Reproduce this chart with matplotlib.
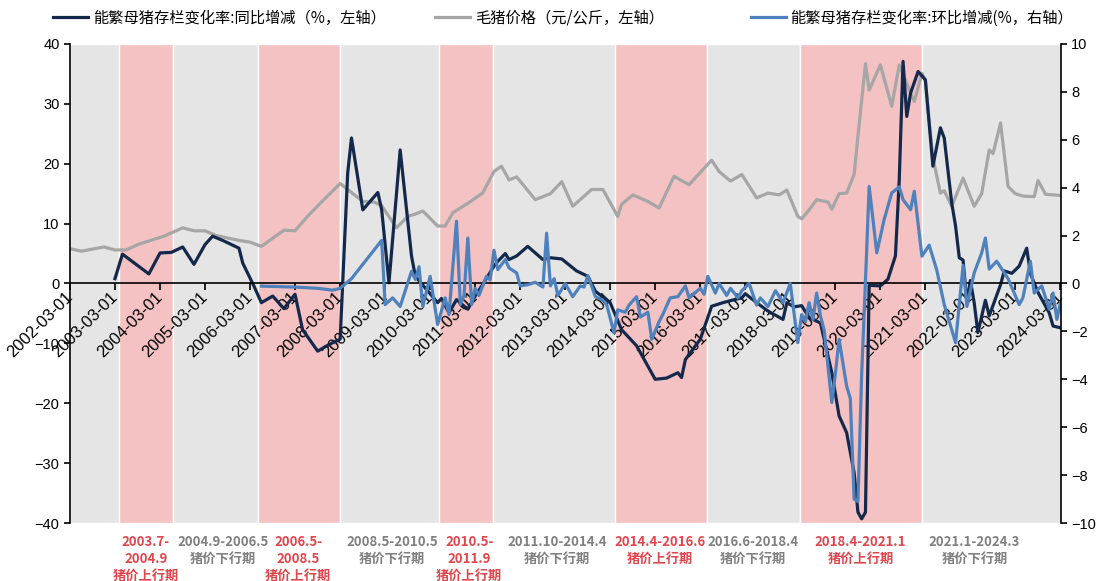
import matplotlib
matplotlib.use('Agg')
import matplotlib.pyplot as plt
import matplotlib.transforms as mtransforms
from matplotlib.font_manager import FontProperties
import pandas as pd

plt.rcParams['font.family'] = ['Liberation Sans', 'Noto Sans CJK SC']
plt.rcParams['axes.unicode_minus'] = True

# 毛猪价格 (元/公斤, 左轴)
price_dates = ['2002-03', '2002-06', '2002-12', '2003-03', '2003-06', '2003-09', '2004-01', '2004-04',
               '2004-09', '2004-12', '2005-03', '2005-06', '2005-12', '2006-03', '2006-06', '2006-12',
               '2007-03', '2007-06', '2007-10', '2008-03', '2008-09', '2008-12', '2009-02', '2009-06',
               '2009-09', '2009-11', '2010-01', '2010-05', '2010-07', '2010-09', '2011-01', '2011-05',
               '2011-08', '2011-10', '2011-12', '2012-02', '2012-07', '2012-11', '2013-02', '2013-05',
               '2013-10', '2014-01', '2014-05', '2014-06', '2014-09', '2015-01', '2015-04', '2015-08',
               '2015-12', '2016-02', '2016-06', '2016-08', '2016-11', '2017-02', '2017-06', '2017-09',
               '2017-12', '2018-02', '2018-05', '2018-06', '2018-08', '2018-10', '2019-01', '2019-02',
               '2019-04', '2019-06', '2019-08', '2019-09', '2019-11', '2019-12', '2020-03', '2020-06',
               '2020-08', '2020-10', '2020-12', '2021-02', '2021-03', '2021-04', '2021-05', '2021-07',
               '2021-08', '2021-10', '2022-01', '2022-04', '2022-06', '2022-08', '2022-09', '2022-11',
               '2023-01', '2023-03', '2023-05', '2023-08', '2023-09', '2023-11', '2024-03']
price_vals = [5.8, 5.4, 6.1, 5.6, 5.6, 6.5, 7.3, 7.9,
              9.3, 8.8, 8.8, 8.0, 7.2, 6.9, 6.2, 8.9,
              8.8, 11.0, 13.6, 16.7, 13.7, 13.6, 13.0, 9.3,
              11.2, 11.6, 12.1, 9.6, 9.6, 11.8, 13.4, 15.1,
              18.7, 19.6, 17.3, 17.8, 14.0, 15.0, 17.0, 12.9,
              15.7, 15.7, 11.2, 13.2, 14.8, 13.7, 12.6, 17.9,
              16.5, 17.9, 20.6, 18.7, 17.1, 18.2, 14.3, 15.1,
              14.8, 15.6, 11.2, 10.8, 12.3, 14.0, 13.6, 12.4,
              15.0, 15.1, 18.2, 24.6, 36.7, 32.3, 36.5, 29.6,
              36.5, 33.4, 30.4, 35.1, 34.0, 27.0, 21.0, 15.1,
              15.5, 12.9, 17.6, 12.9, 15.0, 22.3, 21.7, 26.8,
              16.2, 15.0, 14.6, 14.5, 17.2, 14.9, 14.7]

# 能繁母猪存栏变化率: 同比增减 (%, 左轴)
yoy_dates = ['2003-03', '2003-05', '2003-12', '2004-03', '2004-06', '2004-09', '2004-12', '2005-03',
             '2005-05', '2005-08', '2005-12', '2006-01', '2006-04', '2006-06', '2006-09', '2006-12',
             '2007-03', '2007-05', '2007-09', '2007-12', '2008-03', '2008-05', '2008-06', '2008-09',
             '2009-01', '2009-02', '2009-04', '2009-07', '2009-10', '2009-11', '2010-05', '2010-06',
             '2010-08', '2010-10', '2011-01', '2011-03', '2011-05', '2011-08', '2011-09', '2011-11',
             '2011-12', '2012-02', '2012-05', '2012-09', '2012-11', '2013-02', '2013-06', '2013-09',
             '2013-11', '2014-03', '2014-06', '2014-10', '2015-03', '2015-06', '2015-09', '2015-10',
             '2015-11', '2016-03', '2016-06', '2016-09', '2016-12', '2017-02', '2017-03', '2017-06',
             '2017-09', '2018-01', '2018-02', '2018-04', '2018-06', '2018-08', '2018-11', '2019-02',
             '2019-04', '2019-06', '2019-08', '2019-09', '2019-10', '2019-11', '2019-12', '2020-03',
             '2020-05', '2020-07', '2020-08', '2020-09', '2020-10', '2020-11', '2021-01', '2021-03',
             '2021-05', '2021-07', '2021-08', '2021-10', '2021-11', '2021-12', '2022-01', '2022-02',
             '2022-03', '2022-04', '2022-05', '2022-07', '2022-08', '2022-11', '2022-12', '2023-02',
             '2023-04', '2023-06', '2023-07', '2023-09', '2023-12', '2024-01', '2024-03']
yoy_vals = [0.8, 4.9, 1.6, 5.1, 5.2, 6.1, 3.2, 6.5,
            7.9, 7.1, 5.9, 3.4, -0.4, -3.2, -2.1, -4.2,
            -1.8, -7.7, -11.3, -10.2, -9.3, 18.4, 24.3, 12.3,
            15.2, 12.3, 0.1, 22.3, 4.6, 1.2, -3.2, -2.5,
            -4.9, -2.7, -4.3, -2.1, -0.2, 2.9, 3.7, 5.0,
            4.0, 4.6, 6.2, 4.0, 4.3, 4.1, 2.1, 1.2,
            -1.3, -3.2, -7.7, -10.4, -16.0, -15.8, -14.9, -15.7,
            -12.7, -9.3, -3.8, -3.2, -2.7, -2.4, -1.7, -3.2,
            -4.6, -6.0, -3.2, -3.9, -3.7, -5.7, -6.6, -14.9,
            -22.1, -24.9, -31.6, -38.2, -39.3, -38.2, -0.3, -0.4,
            0.7, 4.6, 17.3, 37.1, 27.9, 31.8, 35.4, 34.0,
            19.6, 26.0, 24.3, 13.4, 9.6, 4.3, 3.9, -3.2,
            0.5, -3.2, -8.2, -2.8, -5.4, -0.2, 2.1, 1.7,
            2.9, 5.9, 1.7, -1.5, -4.9, -7.1, -7.4]

# 能繁母猪存栏变化率: 环比增减 (%, 右轴)
mom_dates = ['2006-06', '2007-03', '2007-09', '2008-01', '2008-03', '2008-06', '2008-11', '2009-02',
             '2009-03', '2009-05', '2009-07', '2009-10', '2009-11', '2009-12', '2010-01', '2010-03',
             '2010-05', '2010-07', '2010-08', '2010-10', '2010-11', '2010-12', '2011-01', '2011-02',
             '2011-03', '2011-04', '2011-06', '2011-07', '2011-08', '2011-09', '2011-11', '2011-12',
             '2012-02', '2012-03', '2012-05', '2012-07', '2012-09', '2012-10', '2012-11', '2012-12',
             '2013-01', '2013-03', '2013-05', '2013-07', '2013-08', '2013-09', '2013-11', '2014-01',
             '2014-02', '2014-04', '2014-05', '2014-07', '2014-08', '2014-10', '2014-11', '2015-01',
             '2015-02', '2015-04', '2015-05', '2015-07', '2015-09', '2015-11', '2015-12', '2016-03',
             '2016-04', '2016-05', '2016-07', '2016-08', '2016-10', '2016-11', '2017-01', '2017-02',
             '2017-04', '2017-06', '2017-07', '2017-09', '2017-11', '2018-01', '2018-03', '2018-05',
             '2018-06', '2018-07', '2018-08', '2018-09', '2018-10', '2018-11', '2018-12', '2019-02',
             '2019-03', '2019-04', '2019-06', '2019-07', '2019-08', '2019-09', '2019-10', '2019-11',
             '2019-12', '2020-02', '2020-04', '2020-06', '2020-08', '2020-09', '2020-11', '2020-12',
             '2021-02', '2021-04', '2021-06', '2021-08', '2021-11', '2022-01', '2022-02', '2022-04',
             '2022-06', '2022-07', '2022-08', '2022-10', '2023-01', '2023-04', '2023-05', '2023-07',
             '2023-08', '2023-10', '2023-12', '2024-01', '2024-02', '2024-03']
mom_vals = [-0.11, -0.15, -0.2, -0.28, -0.2, 0.2, 1.2, 1.8,
            -0.88, -0.6, -0.96, 0.51, 0.17, 0.7, -0.96, 0.3,
            -1.71, -0.6, -1.3, 2.6, -0.88, -0.5, 1.9, -0.88,
            -0.2, -0.5, 0.3, 0.15, 1.39, 0.58, 1.0, 0.65,
            0.44, -0.1, -0.05, 0.05, -0.15, 2.1, -0.1, 0.2,
            -0.5, 0.0, -0.55, -0.1, -0.15, 0.33, -0.55, -0.7,
            -0.9, -2.05, -1.1, -1.2, -0.9, -0.55, -1.4, -1.2,
            -2.33, -1.6, -1.3, -0.6, -0.55, -0.1, -0.6, -0.2,
            -0.45, 0.3, -0.4, 0.0, -0.5, -0.2, -0.6, -0.3,
            0.0, -0.9, -0.6, -0.96, -0.3, -0.8, 0.0, -2.47,
            -1.3, -1.6, -0.8, -1.5, -0.4, -1.36, -1.95, -4.97,
            -3.8, -2.33, -4.28, -4.8, -9.0, -9.1, -3.8, 0.1,
            4.05, 1.28, 2.68, 3.78, 4.03, 3.5, 3.08, 3.85,
            1.14, 1.6, 0.57, -0.88, -2.47, 0.76, -0.96, 0.44,
            1.28, 1.9, 0.6, 0.93, 0.2, -0.88, -0.6, 0.93,
            -0.4, -0.1, -1.07, -0.4, -1.5, -0.8]

# 猪周期阶段 (背景色块边界) 与底部标注
phase_edges = ['2002-03-01', '2003-04-06', '2004-06-13', '2006-05-06', '2008-03-01', '2010-05-15',
               '2011-07-24', '2014-04-10', '2016-04-24', '2018-05-16', '2021-02-01', '2024-03-05']
phase_up = [False, True, False, True, False, True, False, True, False, True, False]
phase_labels = ['2003.7-\n2004.9\n猪价上行期', '2004.9-2006.5\n猪价下行期', '2006.5-\n2008.5\n猪价上行期',
                '2008.5-2010.5\n猪价下行期', '2010.5-\n2011.9\n猪价上行期', '2011.10-2014.4\n猪价下行期',
                '2014.4-2016.6\n猪价上行期', '2016.6-2018.4\n猪价下行期', '2018.4-2021.1\n猪价上行期',
                '2021.1-2024.3\n猪价下行期']
label_dates = ['2003-11-07', '2005-07-22', '2007-03-28', '2009-04-28', '2011-01-13', '2012-12-25',
               '2015-04-10', '2017-05-01', '2019-09-22', '2022-04-04']
label_up = [True, False, True, False, True, False, True, False, True, False]

series_names = ['能繁母猪存栏变化率:同比增减（%，左轴）', '毛猪价格（元/公斤，左轴）',
                '能繁母猪存栏变化率:环比增减(%，右轴）']

fig = plt.figure(figsize=(11.07, 5.81), dpi=100)
ax = fig.add_axes([0.0632, 0.0998, 0.8952, 0.8245])
ax2 = ax.twinx()

edges = pd.to_datetime(phase_edges)
for i in range(len(phase_up)):
    ax.axvspan(edges[i], edges[i + 1], facecolor='#f4c2c2' if phase_up[i] else '#e5e5e5',
               edgecolor='white', linewidth=1.0, zorder=0)

l1, = ax.plot(pd.to_datetime(yoy_dates, format='%Y-%m'), yoy_vals, color='#14284b', lw=2.3, zorder=4)
l2, = ax.plot(pd.to_datetime(price_dates, format='%Y-%m'), price_vals, color='#a6a6a6', lw=2.3, zorder=3)
l3, = ax2.plot(pd.to_datetime(mom_dates, format='%Y-%m'), mom_vals, color='#4f81bd', lw=2.3)

ax.set_xlim(pd.Timestamp('2002-03-01'), pd.Timestamp('2024-03-05'))
ax.set_ylim(-40, 40)
ax2.set_ylim(-10, 10)
ax.set_yticks(range(-40, 41, 10))
ax2.set_yticks(range(-10, 11, 2))

xt = [pd.Timestamp(f'{y}-03-01') for y in range(2002, 2025)]
ax.set_xticks(xt)
ax.set_xticklabels([t.strftime('%Y-%m-%d') for t in xt])

ax.spines['bottom'].set_position(('data', 0))
ax.spines['top'].set_visible(False)
ax.spines['right'].set_visible(False)
for s in ['top', 'bottom', 'left']:
    ax2.spines[s].set_visible(False)
for a in (ax, ax2):
    for s in a.spines.values():
        s.set_linewidth(1.2)
        s.set_zorder(5)

ax.tick_params(axis='x', direction='out', length=5, width=1.2, labelsize=12, pad=3, labelrotation=45)
ax.tick_params(axis='y', direction='out', length=4, width=1.2, labelsize=10.5)
ax2.tick_params(axis='y', direction='out', length=4, width=1.2, labelsize=10.5)
plt.setp(ax.get_xticklabels(), ha='right', va='center', rotation_mode='anchor')

# 底部阶段标注
trans = mtransforms.blended_transform_factory(ax.transData, fig.transFigure)
for lab, d, up in zip(phase_labels, label_dates, label_up):
    ax.text(pd.Timestamp(d), 0.080, lab, transform=trans, ha='center', va='top',
            fontsize=9.5, fontweight='bold', linespacing=1.3,
            color='#e0474c' if up else '#808080',
            family=['Noto Sans CJK SC', 'DejaVu Sans'])

# 图例: 三项分别放置
legend_x = [0.048, 0.393, 0.678]
for h, name, lx in zip([l1, l2, l3], series_names, legend_x):
    leg = fig.legend([h], [name], loc='center left', bbox_to_anchor=(lx, 0.969), frameon=False,
                     prop=FontProperties(family=['Noto Sans CJK SC', 'DejaVu Sans'], size=11),
                     handlelength=2.3, handletextpad=0.3, borderpad=0, borderaxespad=0)

fig.savefig('out.png', dpi=100)
